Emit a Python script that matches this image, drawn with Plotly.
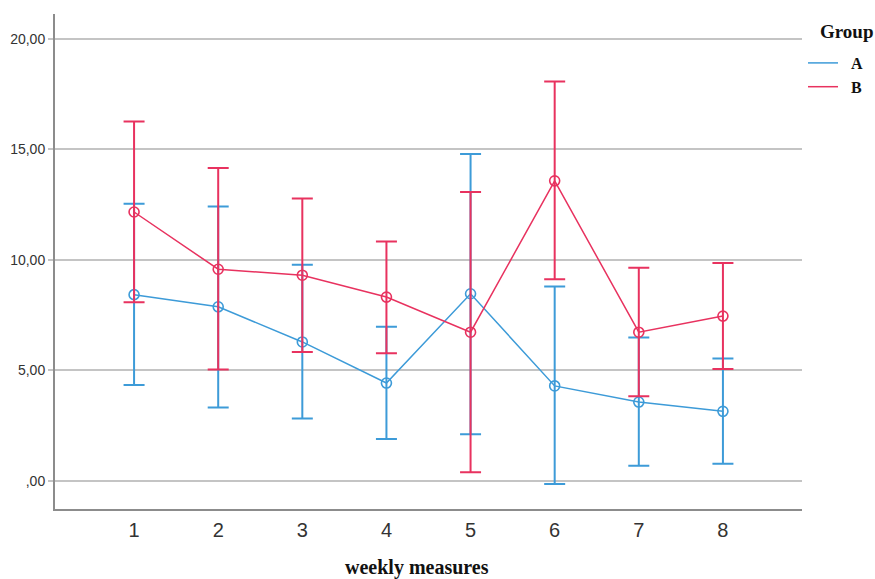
import plotly.graph_objects as go

weeks = [1, 2, 3, 4, 5, 6, 7, 8]
a_mean = [8.42, 7.87, 6.28, 4.42, 8.46, 4.29, 3.56, 3.14]
a_upper = [12.53, 12.41, 9.77, 6.97, 14.78, 8.79, 6.48, 5.53]
a_lower = [4.33, 3.31, 2.81, 1.89, 2.10, -0.15, 0.68, 0.77]
b_mean = [12.16, 9.57, 9.30, 8.31, 6.72, 13.57, 6.72, 7.45]
b_upper = [16.25, 14.15, 12.77, 10.82, 13.06, 18.06, 9.64, 9.85]
b_lower = [8.08, 5.03, 5.83, 5.77, 0.38, 9.12, 3.82, 5.05]
y_tickvals = [0, 5, 10, 15, 20]
y_ticktext = [",00", "5,00", "10,00", "15,00", "20,00"]

BLUE = "#3d9bd8"
RED = "#e8325f"
SERIF = "Liberation Serif, Times New Roman, serif"

fig = go.Figure()

def add_group(name, mean, upper, lower, color):
    plus = [u - m for u, m in zip(upper, mean)]
    minus = [m - l for m, l in zip(mean, lower)]
    fig.add_trace(go.Scatter(
        x=weeks, y=mean, mode="lines+markers", name=name, showlegend=False,
        line=dict(color=color, width=1.5),
        marker=dict(symbol="circle-open", size=10, color=color, line=dict(width=1.6)),
        error_y=dict(type="data", symmetric=False, array=plus, arrayminus=minus,
                     color=color, thickness=2, width=10.5),
    ))
    fig.add_trace(go.Scatter(
        x=[None], y=[None], mode="lines", name="\u00a0\u00a0<b>" + name + "</b>",
        line=dict(color=color, width=1.5),
    ))

add_group("A", a_mean, a_upper, a_lower, BLUE)
add_group("B", b_mean, b_upper, b_lower, RED)

fig.update_layout(
    width=875, height=579,
    margin=dict(l=55, r=73, t=14, b=70, autoexpand=False),
    plot_bgcolor="white", paper_bgcolor="white",
    font=dict(family="Liberation Sans, Arial, sans-serif", color="#333333"),
    legend=dict(
        font=dict(family=SERIF, size=16, color="#111111"),
        xref="container", yref="container",
        x=803 / 875, xanchor="left", y=1 - 46 / 579, yanchor="top",
        tracegroupgap=0, itemwidth=30, bgcolor="rgba(0,0,0,0)",
    ),
    annotations=[
        dict(text="<b>weekly measures</b>", xref="paper", yref="paper",
             x=(417 - 55) / 746.7, y=(509 - 567) / 495, yanchor="middle", xanchor="center",
             showarrow=False, font=dict(family=SERIF, size=20, color="#111111")),
        dict(text="<b>Group</b>", xref="paper", yref="paper",
             x=(818 - 55) / 746.7, y=(509 - 31) / 495, yanchor="middle", xanchor="left",
             showarrow=False, font=dict(family=SERIF, size=19, color="#111111")),
    ],
)
fig.update_xaxes(
    range=[0.06, 8.94], tickvals=weeks, ticktext=[str(w) for w in weeks],
    showgrid=False, zeroline=False, automargin=False,
    showline=True, linecolor="#8c8c8c", linewidth=2,
    ticks="", ticklabelstandoff=2,
    tickfont=dict(size=20, color="#333333"),
)
fig.update_yaxes(
    range=[-1.28, 21.12], tickvals=y_tickvals, ticktext=y_ticktext,
    showgrid=True, gridcolor="#c4c4c4", gridwidth=1.5, zeroline=False, automargin=False,
    showline=True, linecolor="#8c8c8c", linewidth=2,
    ticks="outside", ticklen=5, tickcolor="#c4c4c4", tickwidth=1.5,
    tickfont=dict(size=14, color="#333333"),
)

fig.write_html("out.html")
